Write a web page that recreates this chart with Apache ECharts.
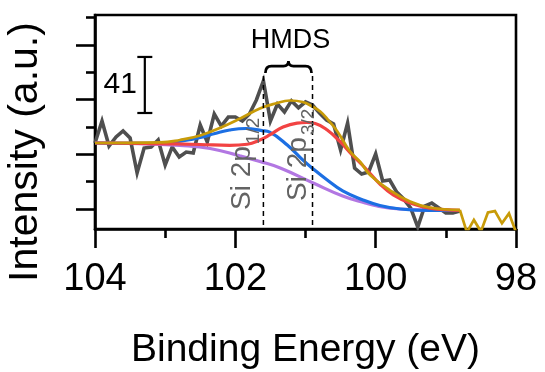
<!DOCTYPE html>
<html>
<head>
<meta charset="utf-8">
<script src="https://cdn.jsdelivr.net/npm/echarts@6/dist/echarts.min.js"></script>
<style>
  html, body { margin: 0; padding: 0; background: #fff; }
  #chart { width: 545px; height: 372px; }
</style>
</head>
<body>
<div id="chart"></div>
<script>
const FONT = "'Liberation Sans', Arial, Helvetica, sans-serif";

// Si 2p spectrum: binding energy (eV) and measured counts
const energy = [
  104.0, 103.9, 103.8, 103.7, 103.6, 103.5, 103.4, 103.3, 103.2, 103.1,
  103.0, 102.9, 102.8, 102.7, 102.6, 102.5, 102.4, 102.3, 102.2, 102.1,
  102.0, 101.9, 101.8, 101.7, 101.6, 101.5, 101.4, 101.3, 101.2, 101.1,
  101.0, 100.9, 100.8, 100.7, 100.6, 100.5, 100.4, 100.3, 100.2, 100.1,
  100.0, 99.9, 99.8, 99.7, 99.6, 99.5, 99.4, 99.3, 99.2, 99.1,
  99.0, 98.9, 98.8
];
const counts = [
  68.3, 84.4, 66.1, 72.7, 77.1, 72.0, 46.4, 64.6, 65.4, 70.5,
  52.2, 65.4, 58.1, 61.7, 61.0, 81.5, 69.0, 89.5, 80.7, 87.3,
  87.3, 84.4, 89.5, 99.8, 113.7, 84.4, 96.8, 91.0, 99.1, 94.0,
  98.4, 96.1, 90.2, 85.1, 82.2, 63.2, 82.9, 50.0, 45.6, 47.1,
  60.3, 40.5, 41.2, 32.4, 27.3, 20.7, 6.8, 22.2, 24.4, 20.7,
  17.1, 17.1, 18.5
];

// counts past the fitted window, drawn in the envelope colour
const tailEnergy = [98.7, 98.6, 98.5, 98.4, 98.3, 98.2, 98.1, 98.0];
const tailCounts = [3.0, 12.0, 3.5, 17.5, 18.5, 9.5, 16.8, 3.0];

// background
const bgEnergy = [104.00, 103.36, 102.79, 102.36, 101.93, 101.65, 101.36, 100.89, 100.47, 100.15, 99.98, 99.65, 99.23, 98.80];
const bgCounts = [68.3, 67.9, 66.5, 64.3, 58.8, 54.8, 50.0, 39.0, 29.5, 24.4, 22.2, 20.0, 19.3, 18.9];

// Si 2p1/2 component (on background)
const p12Energy = [104.00, 103.50, 103.00, 102.72, 102.50, 102.29, 102.08, 101.85, 101.62, 101.51, 101.26, 101.04, 100.89, 100.69, 100.47, 100.18, 99.94, 99.65, 99.23, 98.80];
const p12Counts = [68.3, 68.0, 68.3, 70.1, 72.3, 75.3, 77.8, 78.9, 77.4, 76.3, 66.8, 55.9, 49.3, 41.2, 33.2, 26.6, 22.6, 20.0, 18.9, 18.9];

// Si 2p3/2 component (on background)
const p32Energy = [104.00, 103.22, 102.50, 102.08, 101.83, 101.65, 101.51, 101.32, 101.12, 100.98, 100.86, 100.69, 100.51, 100.32, 100.15, 99.94, 99.75, 99.51, 99.23, 98.80];
const p32Counts = [68.3, 67.9, 67.2, 66.6, 67.4, 70.5, 74.2, 80.0, 82.9, 83.3, 82.6, 77.8, 69.4, 58.8, 50.0, 38.3, 30.3, 24.4, 20.7, 19.0];

// fit envelope
const envEnergy = [104.00, 103.07, 102.79, 102.50, 102.22, 101.93, 101.65, 101.43, 101.22, 101.04, 100.89, 100.79, 100.69, 100.55, 100.37, 100.22, 100.08, 99.80, 99.51, 99.23, 98.80];
const envCounts = [68.3, 68.7, 70.5, 73.8, 79.3, 86.2, 93.5, 97.2, 99.4, 98.3, 94.6, 91.3, 85.9, 77.1, 62.4, 54.4, 44.9, 33.9, 25.5, 21.1, 19.4];

// peak positions of the doublet and their labels
const peakEnergy = [101.6, 100.9];
const peakMain = ['Si 2p', 'Si 2p'];
const peakSub = ['1/2', '3/2'];
const groupLabel = 'HMDS';

// scale bar
const scaleBarValue = 41;

// axis ticks
const xTicks = [98, 100, 102, 104];
const yMajorTicks = [20, 60, 100, 140];
const yMinorTicks = [40, 80, 120, 160];

// ---- layout / style settings ----
const Y_MIN = 5.37, Y_MAX = 161.95;
const X_MIN = 98, X_MAX = 104;
const layout = {
  dashTop: 117.3,
  labelAnchor: [[101.90, 19.3], [101.11, 25.9]],
  braceLevel: 124.6,
  scaleBarAt: [103.29, 90.25]
};
const COLORS = {
  data: '#4f4f4f', bg: '#b277e2', p12: '#1c6fe3', p32: '#f24343', env: '#c89b08', label: '#636363'
};

const pairs = (xs, ys) => xs.map((x, i) => [x, ys[i]]);

const measureCtx = document.createElement('canvas').getContext('2d');
function textWidth(str, font) { measureCtx.font = font; return measureCtx.measureText(str).width; }

const chart = echarts.init(document.getElementById('chart'), null, { renderer: 'canvas' });

const tickStyle = { color: '#000', width: 2.6 };

const option = {
  animation: false,
  backgroundColor: '#fff',
  grid: {
    left: 95, right: 29, top: 15, bottom: 143,
    show: true, borderColor: '#000', borderWidth: 2.6,
    containLabel: false, outerBoundsMode: 'none'
  },
  xAxis: {
    type: 'value', inverse: true, min: X_MIN, max: X_MAX, interval: xTicks[1] - xTicks[0],
    axisLine: { onZero: false, lineStyle: tickStyle },
    axisTick: { length: 19, lineStyle: tickStyle },
    minorTick: { show: true, splitNumber: 2, length: 9, lineStyle: tickStyle },
    axisLabel: { fontSize: 38, color: '#000', margin: 32, fontFamily: FONT },
    splitLine: { show: false }, minorSplitLine: { show: false },
    name: 'Binding Energy (eV)', nameLocation: 'middle', nameGap: 102,
    nameTextStyle: { fontSize: 39, color: '#000', fontFamily: FONT }
  },
  yAxis: [
    {
      type: 'value', position: 'left', min: Y_MIN, max: Y_MAX,
      axisLine: { show: true, onZero: false, lineStyle: tickStyle },
      axisTick: { show: true, length: 19, customValues: yMajorTicks, lineStyle: tickStyle },
      axisLabel: { show: false }, splitLine: { show: false }
    },
    {
      type: 'value', position: 'left', offset: 0, min: Y_MIN, max: Y_MAX,
      axisLine: { show: false, onZero: false },
      axisTick: { show: true, length: 9, customValues: yMinorTicks, lineStyle: tickStyle },
      axisLabel: { show: false }, splitLine: { show: false }
    }
  ],
  graphic: [{
    type: 'text', x: 26, y: 152, rotation: Math.PI / 2,
    style: { text: 'Intensity (a.u.)', font: '41px ' + FONT, fill: '#000', align: 'center', verticalAlign: 'middle' }
  }],
  series: [
    {
      name: 'data', type: 'line', data: pairs(energy, counts), symbol: 'none', z: 2,
      lineStyle: { color: COLORS.data, width: 3.6, join: 'miter' }
    },
    {
      name: 'background', type: 'line', data: pairs(bgEnergy, bgCounts), symbol: 'none', smooth: 0.45, z: 3,
      lineStyle: { color: COLORS.bg, width: 3.2 }
    },
    {
      name: 'Si 2p1/2', type: 'line', data: pairs(p12Energy, p12Counts), symbol: 'none', smooth: 0.45, z: 4,
      lineStyle: { color: COLORS.p12, width: 3.2 }
    },
    {
      name: 'Si 2p3/2', type: 'line', data: pairs(p32Energy, p32Counts), symbol: 'none', smooth: 0.45, z: 5,
      lineStyle: { color: COLORS.p32, width: 3.2 }
    },
    {
      name: 'envelope', type: 'line', data: pairs(envEnergy, envCounts), symbol: 'none', smooth: 0.45, z: 6,
      lineStyle: { color: COLORS.env, width: 2.7 }
    },
    {
      name: 'tail', type: 'line',
      data: [[envEnergy[envEnergy.length - 1], envCounts[envCounts.length - 1]]].concat(pairs(tailEnergy, tailCounts)),
      symbol: 'none', z: 6,
      lineStyle: { color: COLORS.env, width: 2.7, join: 'miter' }
    },
    {
      // dashed peak markers with rotated labels
      type: 'custom', z: 10, silent: true,
      data: peakEnergy.map(e => [e, layout.dashTop]),
      renderItem: (params, api) => {
        const i = params.dataIndex;
        const e = api.value(0);
        const top = api.coord([e, api.value(1)]);
        const bottom = api.coord([e, Y_MIN]);
        const a = api.coord(layout.labelAnchor[i]);
        const mainFont = '28px ' + FONT;
        const subFont = '19px ' + FONT;
        const w = textWidth(peakMain[i], mainFont);
        return {
          type: 'group',
          children: [
            { type: 'line', shape: { x1: top[0], y1: top[1], x2: bottom[0], y2: bottom[1] },
              style: { stroke: '#000', lineWidth: 1.5, lineDash: [5, 4] } },
            { type: 'text', x: a[0], y: a[1], rotation: Math.PI / 2,
              style: { text: peakMain[i], font: mainFont, fill: COLORS.label, align: 'left', verticalAlign: 'middle' } },
            { type: 'text', x: a[0] + 11, y: a[1] - w - 2, rotation: Math.PI / 2,
              style: { text: peakSub[i], font: subFont, fill: COLORS.label, align: 'left', verticalAlign: 'middle' } }
          ]
        };
      }
    },
    {
      // brace spanning the doublet with its label
      type: 'custom', z: 10, silent: true,
      data: [[peakEnergy[0], layout.braceLevel]],
      renderItem: (params, api) => {
        const p1 = api.coord([peakEnergy[0], layout.braceLevel]);
        const p2 = api.coord([peakEnergy[1], layout.braceLevel]);
        const x1 = p1[0] + 2, x2 = p2[0] - 1, y = p1[1], xm = (x1 + x2) / 2;
        const path = `M${x1},${y + 7} Q${x1},${y} ${x1 + 6},${y} L${xm - 5},${y} Q${xm},${y} ${xm},${y - 5} ` +
                     `Q${xm},${y} ${xm + 5},${y} L${x2 - 6},${y} Q${x2},${y} ${x2},${y + 7}`;
        return {
          type: 'group',
          children: [
            { type: 'path', shape: { pathData: path }, style: { stroke: '#000', lineWidth: 2.7, fill: null } },
            { type: 'text', x: xm + 2, y: y - 25,
              style: { text: groupLabel, font: '27px ' + FONT, fill: '#000', align: 'center', verticalAlign: 'middle' } }
          ]
        };
      }
    },
    {
      // intensity scale bar
      type: 'custom', z: 10, silent: true,
      data: [[layout.scaleBarAt[0], layout.scaleBarAt[1], layout.scaleBarAt[1] + scaleBarValue]],
      renderItem: (params, api) => {
        const lo = api.coord([api.value(0), api.value(1)]);
        const hi = api.coord([api.value(0), api.value(2)]);
        const x = lo[0];
        return {
          type: 'group',
          children: [
            { type: 'line', shape: { x1: x, y1: lo[1], x2: x, y2: hi[1] }, style: { stroke: '#000', lineWidth: 2.2 } },
            { type: 'line', shape: { x1: x - 7.5, y1: lo[1], x2: x + 7.5, y2: lo[1] }, style: { stroke: '#000', lineWidth: 2.2 } },
            { type: 'line', shape: { x1: x - 7.5, y1: hi[1], x2: x + 7.5, y2: hi[1] }, style: { stroke: '#000', lineWidth: 2.2 } },
            { type: 'text', x: x - 8, y: (lo[1] + hi[1]) / 2,
              style: { text: String(scaleBarValue), font: '30px ' + FONT, fill: '#000', align: 'right', verticalAlign: 'middle' } }
          ]
        };
      }
    }
  ]
};

chart.setOption(option);
</script>
</body>
</html>
